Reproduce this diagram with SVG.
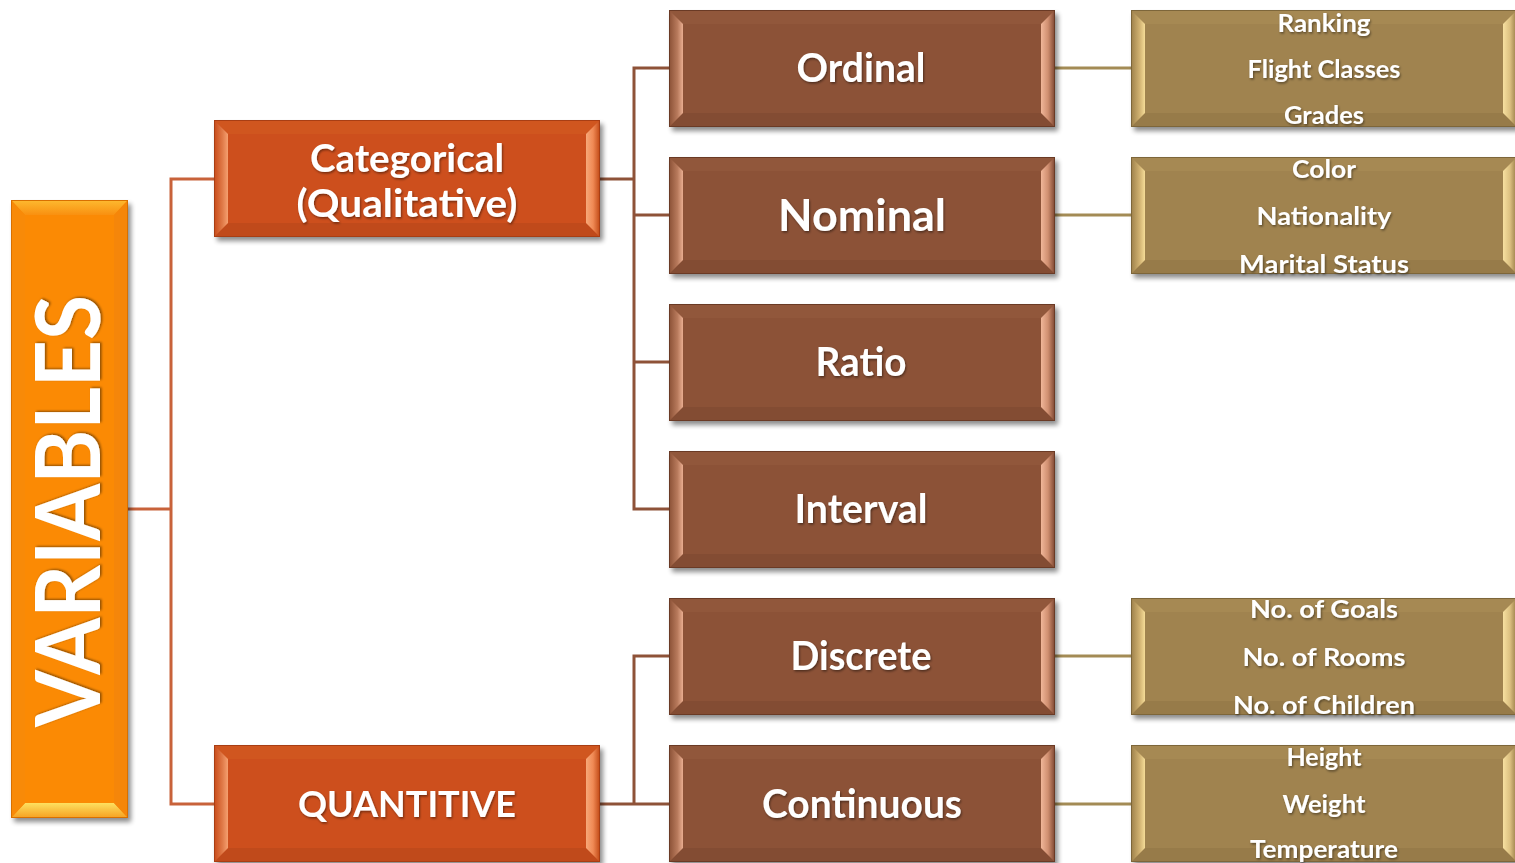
<svg xmlns="http://www.w3.org/2000/svg" xmlns:xlink="http://www.w3.org/1999/xlink" width="1515" height="863" viewBox="0 0 1515 863">
<style>
.lbl{font-family:Lato,"Open Sans","Liberation Sans",sans-serif;font-weight:700;fill:#fff;text-anchor:middle;filter:url(#tsh)}
.c1{fill:none;stroke:#c8623a;stroke-width:3}
.c2{fill:none;stroke:#8e5238;stroke-width:3}
.c3{fill:none;stroke:#a38b55;stroke-width:3}
</style>
<defs>
<filter id="sh" x="-10%" y="-10%" width="130%" height="130%"><feGaussianBlur stdDeviation="2.5"/></filter>
<filter id="tsh" x="-10%" y="-20%" width="120%" height="150%"><feDropShadow dx="1" dy="1.5" stdDeviation="1" flood-color="#000" flood-opacity="0.45"/></filter>
<linearGradient id="gCatL" x1="0" x2="1" y1="0" y2="0"><stop offset="0" stop-color="#c84a18"/><stop offset="0.6" stop-color="#e07a48"/><stop offset="1" stop-color="#f5a070"/></linearGradient>
<linearGradient id="gCatR" x1="0" x2="1" y1="0" y2="0"><stop offset="0" stop-color="#f7a878"/><stop offset="0.5" stop-color="#f08a55"/><stop offset="1" stop-color="#c04814"/></linearGradient>
<linearGradient id="gMidL" x1="0" x2="1" y1="0" y2="0"><stop offset="0" stop-color="#8a5035"/><stop offset="0.6" stop-color="#b87a5c"/><stop offset="1" stop-color="#e9ad90"/></linearGradient>
<linearGradient id="gMidR" x1="0" x2="1" y1="0" y2="0"><stop offset="0" stop-color="#f0b699"/><stop offset="0.5" stop-color="#d08f70"/><stop offset="1" stop-color="#7c4530"/></linearGradient>
<linearGradient id="gExL" x1="0" x2="1" y1="0" y2="0"><stop offset="0" stop-color="#9c7f4a"/><stop offset="0.6" stop-color="#cfb070"/><stop offset="1" stop-color="#f5dc98"/></linearGradient>
<linearGradient id="gExR" x1="0" x2="1" y1="0" y2="0"><stop offset="0" stop-color="#f7e0a0"/><stop offset="0.5" stop-color="#dcc080"/><stop offset="1" stop-color="#957844"/></linearGradient>
<linearGradient id="gVarT" x1="0" x2="0" y1="0" y2="1"><stop offset="0" stop-color="#fdba30"/><stop offset="1" stop-color="#f99010"/></linearGradient>
<linearGradient id="gVarB" x1="0" x2="0" y1="0" y2="1"><stop offset="0" stop-color="#fde060"/><stop offset="1" stop-color="#f6a020"/></linearGradient>
<symbol id="boxCat" overflow="visible">
 <rect x="3" y="4" width="386" height="117" fill="#000" opacity="0.45" filter="url(#sh)"/>
 <rect width="386" height="117" fill="#cd4f1d"/>
 <polygon points="0,0 386,0 372,14 14,14" fill="#d0561f"/>
 <polygon points="0,117 386,117 372,103 14,103" fill="#c04a1b"/>
 <polygon points="0,0 14,14 14,103 0,117" fill="url(#gCatL)"/>
 <polygon points="386,0 372,14 372,103 386,117" fill="url(#gCatR)"/>
 <rect x="0.5" y="0.5" width="385" height="116" fill="none" stroke="#a83e14" stroke-width="1"/>
</symbol>
<symbol id="boxMid" overflow="visible">
 <rect x="3" y="4" width="386" height="117" fill="#000" opacity="0.45" filter="url(#sh)"/>
 <rect width="386" height="117" fill="#8c5237"/>
 <polygon points="0,0 386,0 372,14 14,14" fill="#91573b"/>
 <polygon points="0,117 386,117 372,103 14,103" fill="#834c33"/>
 <polygon points="0,0 14,14 14,103 0,117" fill="url(#gMidL)"/>
 <polygon points="386,0 372,14 372,103 386,117" fill="url(#gMidR)"/>
 <rect x="0.5" y="0.5" width="385" height="116" fill="none" stroke="#6a3a25" stroke-width="1"/>
</symbol>
<symbol id="boxEx" overflow="visible">
 <rect x="3" y="4" width="386" height="117" fill="#000" opacity="0.45" filter="url(#sh)"/>
 <rect width="386" height="117" fill="#a0834f"/>
 <polygon points="0,0 386,0 372,14 14,14" fill="#a68953"/>
 <polygon points="0,117 386,117 372,103 14,103" fill="#977b49"/>
 <polygon points="0,0 14,14 14,103 0,117" fill="url(#gExL)"/>
 <polygon points="386,0 372,14 372,103 386,117" fill="url(#gExR)"/>
 <rect x="0.5" y="0.5" width="385" height="116" fill="none" stroke="#7d663a" stroke-width="1"/>
</symbol>
</defs>
<rect width="1515" height="863" fill="#fff"/>

<g id="connectors">
 <polyline class="c1" points="128,509 171,509"/>
 <polyline class="c1" points="214,179 171,179 171,804 214,804"/>
 <polyline class="c2" points="600,179 634,179"/>
 <polyline class="c2" points="669,68 634,68 634,509 669,509"/>
 <polyline class="c2" points="634,215 669,215"/>
 <polyline class="c2" points="634,362 669,362"/>
 <polyline class="c2" points="600,804 669,804"/>
 <polyline class="c2" points="669,656 634,656 634,804"/>
 <polyline class="c3" points="1054,68 1131,68"/>
 <polyline class="c3" points="1054,215 1131,215"/>
 <polyline class="c3" points="1054,656 1131,656"/>
 <polyline class="c3" points="1054,804 1131,804"/>
</g>

<g id="variables">
 <rect x="14" y="204" width="117" height="618" fill="#000" opacity="0.45" filter="url(#sh)"/>
 <rect x="11" y="200" width="117" height="618" fill="#fb8a04"/>
 <polygon points="11,200 128,200 114,215 25,215" fill="url(#gVarT)"/>
 <polygon points="11,818 128,818 114,803 25,803" fill="url(#gVarB)"/>
 <polygon points="11,200 25,215 25,803 11,818" fill="#f88a08"/>
 <polygon points="128,200 114,215 114,803 128,818" fill="#f5860a"/>
 <rect x="11.5" y="200.5" width="116" height="617" fill="none" stroke="#d87000" stroke-width="1"/>
 <text class="lbl" transform="translate(100,511) rotate(-90)" font-size="90" textLength="432" lengthAdjust="spacingAndGlyphs">VARIABLES</text>
</g>

<g id="categorical">
 <use xlink:href="#boxCat" x="214" y="120"/>
 <text class="lbl" x="407" y="172" font-size="39" textLength="194" lengthAdjust="spacingAndGlyphs">Categorical</text>
 <text class="lbl" x="407" y="217" font-size="39" textLength="221" lengthAdjust="spacingAndGlyphs">(Qualitative)</text>
</g>
<g id="quantitive">
 <use xlink:href="#boxCat" x="214" y="745"/>
 <text class="lbl" x="407" y="817" font-size="37" textLength="218" lengthAdjust="spacingAndGlyphs">QUANTITIVE</text>
</g>

<g id="ordinal">
 <use xlink:href="#boxMid" x="669" y="10"/>
 <text class="lbl" x="861" y="82" font-size="40" textLength="129" lengthAdjust="spacingAndGlyphs">Ordinal</text>
</g>
<g id="nominal">
 <use xlink:href="#boxMid" x="669" y="157"/>
 <text class="lbl" x="862" y="231" font-size="44" textLength="168" lengthAdjust="spacingAndGlyphs">Nominal</text>
</g>
<g id="ratio">
 <use xlink:href="#boxMid" x="669" y="304"/>
 <text class="lbl" x="861" y="376" font-size="40" textLength="91" lengthAdjust="spacingAndGlyphs">Ratio</text>
</g>
<g id="interval">
 <use xlink:href="#boxMid" x="669" y="451"/>
 <text class="lbl" x="861" y="523" font-size="40" textLength="133" lengthAdjust="spacingAndGlyphs">Interval</text>
</g>
<g id="discrete">
 <use xlink:href="#boxMid" x="669" y="598"/>
 <text class="lbl" x="861" y="670" font-size="40" textLength="141" lengthAdjust="spacingAndGlyphs">Discrete</text>
</g>
<g id="continuous">
 <use xlink:href="#boxMid" x="669" y="745"/>
 <text class="lbl" x="862" y="818" font-size="40" textLength="200" lengthAdjust="spacingAndGlyphs">Continuous</text>
</g>

<g id="ordinal-examples">
 <use xlink:href="#boxEx" x="1131" y="10"/>
 <text class="lbl" x="1324" y="32" font-size="25" textLength="93" lengthAdjust="spacingAndGlyphs">Ranking</text>
 <text class="lbl" x="1324" y="78" font-size="25" textLength="153" lengthAdjust="spacingAndGlyphs">Flight Classes</text>
 <text class="lbl" x="1324" y="124" font-size="25" textLength="80" lengthAdjust="spacingAndGlyphs">Grades</text>
</g>
<g id="nominal-examples">
 <use xlink:href="#boxEx" x="1131" y="157"/>
 <text class="lbl" x="1324" y="178" font-size="25" textLength="64" lengthAdjust="spacingAndGlyphs">Color</text>
 <text class="lbl" x="1324" y="225" font-size="25" textLength="135" lengthAdjust="spacingAndGlyphs">Nationality</text>
 <text class="lbl" x="1324" y="273" font-size="25" textLength="170" lengthAdjust="spacingAndGlyphs">Marital Status</text>
</g>
<g id="discrete-examples">
 <use xlink:href="#boxEx" x="1131" y="598"/>
 <text class="lbl" x="1324" y="618" font-size="25" textLength="148" lengthAdjust="spacingAndGlyphs">No. of Goals</text>
 <text class="lbl" x="1324" y="666" font-size="25" textLength="163" lengthAdjust="spacingAndGlyphs">No. of Rooms</text>
 <text class="lbl" x="1324" y="714" font-size="25" textLength="182" lengthAdjust="spacingAndGlyphs">No. of Children</text>
</g>
<g id="continuous-examples">
 <use xlink:href="#boxEx" x="1131" y="745"/>
 <text class="lbl" x="1324" y="766" font-size="25" textLength="75" lengthAdjust="spacingAndGlyphs">Height</text>
 <text class="lbl" x="1324" y="813" font-size="25" textLength="83" lengthAdjust="spacingAndGlyphs">Weight</text>
 <text class="lbl" x="1324" y="858" font-size="25" textLength="148" lengthAdjust="spacingAndGlyphs">Temperature</text>
</g>
</svg>
